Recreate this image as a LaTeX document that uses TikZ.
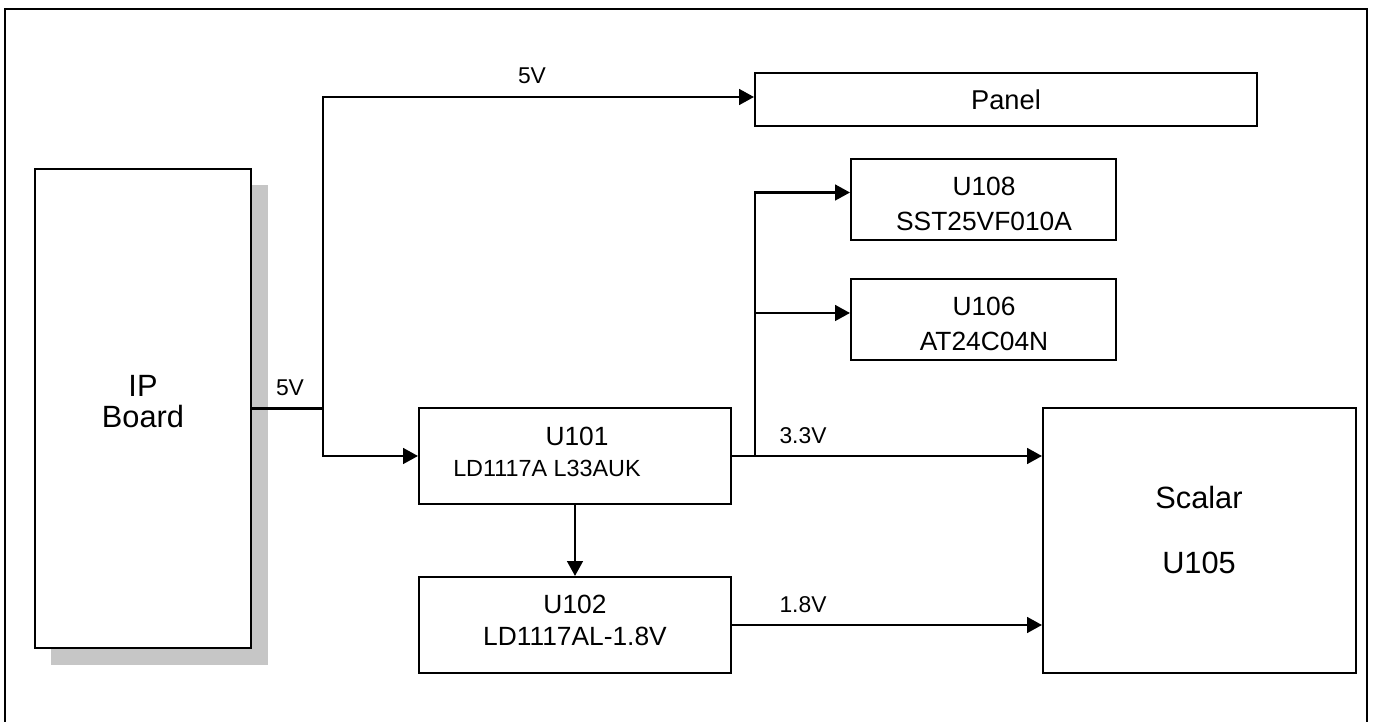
\documentclass[tikz,border=0pt]{standalone}
\usepackage{fontspec}
\setmainfont{Liberation Sans}
\usetikzlibrary{arrows.meta}

\begin{document}
\begin{tikzpicture}[
  x=0.02cm, y=-0.02cm, line width=1.2pt,
  blk/.style={draw, fill=white, inner sep=0pt},
  pwr/.style={-{Triangle[length=8.5pt, width=9pt]}},
  txt/.style={font=\fontsize{15}{19.9}\selectfont, align=center, inner sep=0pt},
  lbl/.style={font=\fontsize{13}{15}\selectfont, inner sep=0pt},
]
\useasboundingbox (0,0) rectangle (1374,722);

% outer frame (bottom edge runs off the page)
\draw[line width=1.3pt] (5,730) -- (5,9) -- (1367,9) -- (1367,730);

% IP board with its shadow
\fill[gray!45] (51,185) rectangle (268,665);
\node[blk, minimum width=4.32cm, minimum height=9.58cm] (ip) at (143,408.5) {};
\node[txt, font=\fontsize{17.5}{17.6}\selectfont] (iptxt) at (143,401.5) {IP\\Board};

% boxes
\node[blk, minimum width=10.04cm, minimum height=1.06cm] (panel) at (1006,99.5) {};
\node[blk, minimum width=5.3cm, minimum height=1.62cm] (u108) at (983.5,199.5) {};
\node[blk, minimum width=5.3cm, minimum height=1.62cm] (u106) at (983.5,319.5) {};
\node[blk, minimum width=6.24cm, minimum height=1.92cm] (u101) at (575,456) {};
\node[blk, minimum width=6.24cm, minimum height=1.92cm] (u102) at (575,625) {};
\node[blk, minimum width=6.26cm, minimum height=5.3cm] (scalar) at (1199.5,540.5) {};

% box texts
\node[txt, font=\fontsize{15.5}{18}\selectfont] (paneltxt) at (1006,100) {Panel};
\node[txt] (u108txt) at (984,203.5) {U108\\SST25VF010A};
\node[txt] (u106txt) at (984,323.5) {U106\\AT24C04N};
\node[txt] (u101a) at (577,436) {U101};
\node[txt, font=\fontsize{13.3}{16}\selectfont] (u101b) at (547,468) {LD1117A L33AUK};
\node[txt, font=\fontsize{15}{18.2}\selectfont] (u102txt) at (575,620) {U102\\LD1117AL-1.8V};
\node[txt, font=\fontsize{17.5}{37}\selectfont] (scalartxt) at (1199,530.5) {Scalar\\U105};

% junctions
\coordinate (J5) at (323,408.5);
\coordinate (J33) at (755,456);

% 5V rail
\draw (ip.east) -- (J5);
\draw[pwr] (J5) |- ([yshift=0.05cm]panel.west);
\draw[pwr] (J5) |- (u101.west);

% 3.3V rail
\draw[pwr] (u101.east) -- (scalar.west |- u101.east);
\draw[pwr] (J33) |- ([yshift=0.14cm]u108.west);
\draw[pwr] (J33) |- ([yshift=0.13cm]u106.west);

% 1.8V rail
\draw[pwr] (u101.south) -- (u102.north);
\draw[pwr] (u102.east) -- (scalar.west |- u102.east);

% rail labels
\node[lbl] (v5a) at (532,76) {5V};
\node[lbl] (v5b) at (290,388) {5V};
\node[lbl] (v33) at (803,436) {3.3V};
\node[lbl] (v18) at (803,605) {1.8V};

\end{tikzpicture}
\end{document}
